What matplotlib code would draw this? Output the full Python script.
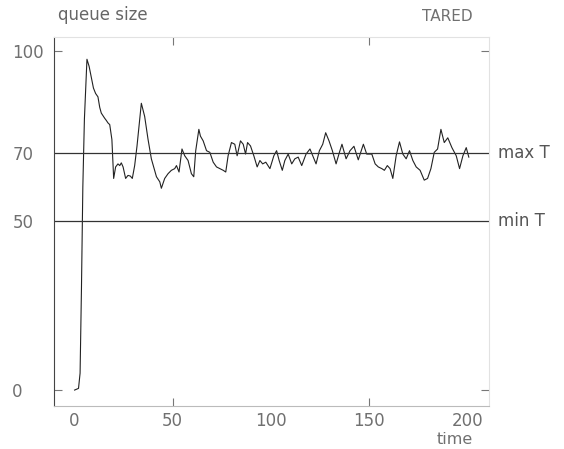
import matplotlib.pyplot as plt

plt.rcParams['font.family'] = ['DejaVu Sans']

# queue size trace
t = [0, 2, 2.8, 3.5, 4.2, 5, 6.3, 7.4, 8.5, 9.6, 10.7, 11.9, 12.8, 13.6, 15.3, 16.2,
     17, 17.9, 19, 19.9,
     20.9, 22.1, 23, 23.8, 24.7, 26, 27.2, 28.4, 29.4, 30.6, 31.8, 34, 35.7, 37.4,
     39.1, 40.5, 41.7, 43.4, 44.2, 45.9, 47.6, 49.3, 51, 51.9, 53.2, 54.7, 56.1,
     57.8, 59.5, 60.7, 61.7, 63.3, 64.1, 65.5, 67.2, 68.9, 70.6, 72.3, 74, 75.7,
     77, 78.2, 79.9, 81.6, 82.8, 84.5, 85.9, 87.1, 88.1, 89.6, 91.3, 93, 94.4,
     95.8, 97.4, 99.5, 101.5, 102.9, 104.2, 105.8, 107.1, 108.8, 110.6, 112.2,
     113.9, 115.7, 117.9, 119.9, 121.3, 123, 124.7, 126.4, 127.9, 129.6, 131.3,
     133.2, 134.9, 136.2, 138.3, 140.3, 142.3, 144.5, 147.1, 148.8, 151.4, 153.1,
     154.7, 156.5, 157.8, 159.3, 160.7, 162.1, 163.8, 165.5, 167.2, 168.9, 170.6,
     172.3, 174, 176, 178.1, 179.8, 181.5, 183.2, 184.9, 186.6, 188.3, 190.1,
     192.2, 194.4, 196.1, 197.8, 199.5, 200.8]
q = [0, 0.5, 5, 30, 60, 80, 97.7, 95.6, 92.4, 89.2, 87.6, 86.6, 83.5, 81.8, 80.3, 79.6,
     78.9, 78.4, 74, 62.5,
     65.9, 66.8, 66.3, 67.1, 65.9, 62.5, 63.4, 63.2, 62.5, 66.3, 72.1, 84.7, 80.8, 74.1,
     68.3, 65.5, 63, 61.5, 59.6, 62.5, 63.9, 64.9, 65.4, 66.3, 64.4, 71.2, 69.2,
     67.8, 63.9, 63, 70.7, 77, 75, 73.6, 70.7, 70.2, 67.3, 65.9, 65.4, 64.9,
     64.4, 69.2, 73.1, 72.6, 69.2, 73.6, 72.6, 69.7, 73.1, 72.1, 69.2, 65.9, 67.8,
     66.8, 67.3, 65.4, 69.2, 70.7, 67.8, 64.9, 67.8, 69.7, 66.8, 68.3,
     68.8, 66.3, 69.7, 71.2, 69.2, 66.8, 70.7, 72.6, 76, 73.6, 70.7,
     66.8, 70.2, 72.6, 68.3, 70.7, 72, 68, 72.6, 69.7, 69.7, 66.8,
     65.9, 65.4, 64.9, 66.3, 65.4, 62.5, 69.2, 73.3, 69.7, 68.3, 70.7,
     67.8, 65.9, 64.9, 62, 62.5, 65.4, 70.2, 71.2, 77, 73.1, 74.5,
     71.6, 69.2, 65.4, 69.2, 71.6, 68.8]

max_T = 70
min_T = 50
xticks = [0, 50, 100, 150, 200]
yticks = [0, 50, 70, 100]

fig = plt.figure(figsize=(5.64, 4.49), dpi=100)
ax = fig.add_axes([0.0957, 0.0958, 0.771, 0.822])

ax.plot(t, q, color='#222222', linewidth=0.8)
ax.axhline(max_T, color='#333333', linewidth=0.9)
ax.axhline(min_T, color='#333333', linewidth=0.9)

ax.set_xlim(-10.5, 211)
ax.set_ylim(-4.7, 104.3)

ax.set_xticks(xticks)
ax.set_yticks(yticks)
ax.tick_params(axis='both', direction='in', length=6, width=0.8, color='#777777',
               labelcolor='#707070', labelsize=12, top=True, right=True)
ax.tick_params(axis='x', pad=4)
ax.tick_params(axis='y', pad=30)
plt.setp(ax.get_yticklabels(), ha='left')
# only some tick marks are drawn in the original
for i, tk in enumerate(ax.xaxis.get_major_ticks()):
    if xticks[i] in (0, 100, 200):
        tk.tick1line.set_visible(False)
        tk.tick2line.set_visible(False)
for i, tk in enumerate(ax.yaxis.get_major_ticks()):
    if yticks[i] in (50, 70):
        tk.tick1line.set_visible(False)
        tk.tick2line.set_visible(False)

ax.spines['left'].set_color('#444444')
ax.spines['bottom'].set_color('#bbbbbb')
ax.spines['top'].set_color('#e2e2e2')
ax.spines['right'].set_color('#e2e2e2')

ax.text(1.02, (max_T + 4.7) / 109, 'max T', transform=ax.transAxes,
        va='center', ha='left', fontsize=12, color='#555555')
ax.text(1.02, (min_T + 4.7) / 109, 'min T', transform=ax.transAxes,
        va='center', ha='left', fontsize=12, color='#555555')

fig.text(0.103, 0.966, 'queue size', ha='left', va='center', fontsize=12, color='#666666')
fig.text(0.838, 0.964, 'TARED', ha='right', va='center', fontsize=11, color='#707070')
fig.text(0.838, 0.022, 'time', ha='right', va='center', fontsize=11.5, color='#707070')

fig.savefig('out.png', dpi=100)
